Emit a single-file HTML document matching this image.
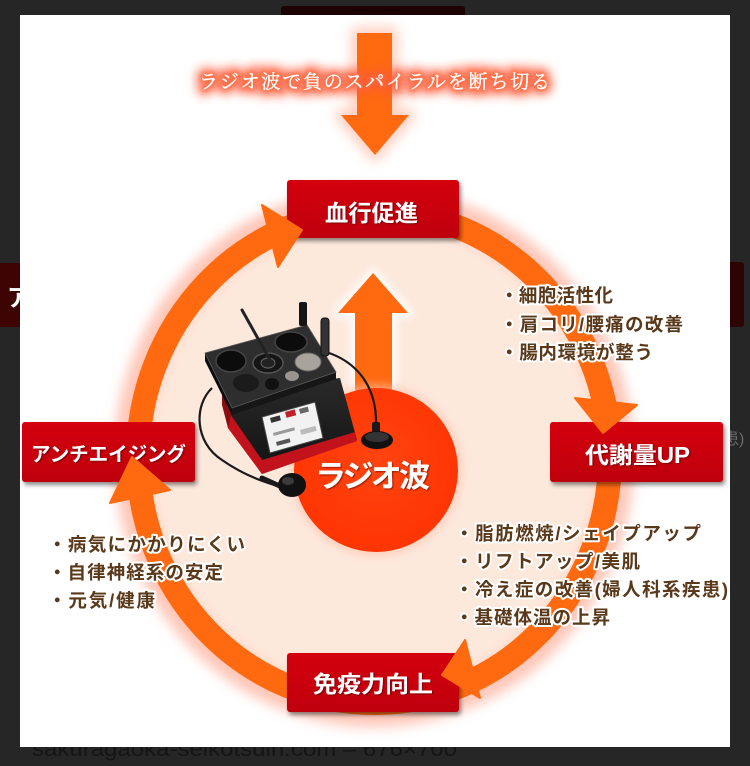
<!DOCTYPE html>
<html><head><meta charset="utf-8"><title>ラジオ波で負のスパイラルを断ち切る</title>
<style>
html,body{margin:0;padding:0;background:#262626;width:750px;height:766px;overflow:hidden}
svg{display:block}
.jp{font-family:"Liberation Sans","Noto Sans CJK JP",sans-serif;font-weight:700}
.serif{font-family:"Liberation Serif","Noto Serif CJK SC",serif}
.lst{font-family:"Liberation Sans","Noto Sans CJK JP",sans-serif;font-weight:700;font-size:18.5px;fill:#5a381a;stroke:#fff;stroke-width:4;stroke-linejoin:round;paint-order:stroke}
.bx{font-family:"Liberation Sans","Noto Sans CJK JP",sans-serif;font-weight:700;fill:#fff}
</style></head><body>
<svg width="750" height="766" viewBox="0 0 750 766" xmlns="http://www.w3.org/2000/svg">
<defs>
  <filter id="b6" x="-30%" y="-30%" width="160%" height="160%"><feGaussianBlur stdDeviation="6"/></filter>
  <filter id="b5" x="-30%" y="-60%" width="160%" height="220%"><feGaussianBlur stdDeviation="5"/></filter>
  <filter id="b4" x="-30%" y="-30%" width="160%" height="160%"><feGaussianBlur stdDeviation="4"/></filter>
  <filter id="b2" x="-30%" y="-30%" width="160%" height="160%"><feGaussianBlur stdDeviation="2"/></filter>
  <filter id="sh" x="-10%" y="-10%" width="130%" height="140%"><feDropShadow dx="2" dy="3" stdDeviation="2" flood-color="#000" flood-opacity="0.45"/></filter>
  <filter id="tsh" x="-10%" y="-20%" width="120%" height="150%"><feDropShadow dx="1" dy="1" stdDeviation="0.8" flood-color="#400" flood-opacity="0.6"/></filter>
  <linearGradient id="boxg" x1="0" y1="0" x2="0" y2="1"><stop offset="0" stop-color="#d4000e"/><stop offset="1" stop-color="#bf0008"/></linearGradient>
  <radialGradient id="circg" cx="0.5" cy="0.45" r="0.6"><stop offset="0" stop-color="#ff4410"/><stop offset="1" stop-color="#ff3300"/></radialGradient>
  <linearGradient id="bodyg" x1="0" y1="0" x2="0" y2="1"><stop offset="0" stop-color="#2a2a2a"/><stop offset="1" stop-color="#111"/></linearGradient>
</defs>

<!-- background page remnants -->
<rect x="0" y="0" width="750" height="766" fill="#262626"/>
<rect x="281" y="6" width="184" height="14" rx="3" fill="#1c0202"/>
<rect x="-6" y="263" width="30" height="64" rx="3" fill="#3e0404"/>
<text x="7" y="306" class="bx" font-size="24" fill="#e8e8e8">ア</text>
<rect x="726" y="262" width="18" height="65" rx="3" fill="#2e0303"/>
<text x="723" y="444" font-family="Liberation Sans,Noto Sans CJK JP,sans-serif" font-size="16" fill="#6a6a6a">患)</text>
<text x="32" y="756" font-family="Liberation Sans,sans-serif" font-size="21" fill="#151515" textLength="425" lengthAdjust="spacingAndGlyphs">sakuragaoka-seikotsuin.com – 676×700</text>

<!-- white panel -->
<rect x="20" y="15" width="710" height="732" fill="#ffffff"/>

<!-- ring -->
<ellipse cx="374" cy="457" rx="236" ry="246" fill="none" stroke="#ffb4a0" stroke-width="48" opacity="0.75" filter="url(#b6)"/>
<ellipse cx="374" cy="457" rx="236" ry="246" fill="#fde8dc"/>
<ellipse cx="374" cy="457" rx="228" ry="238" fill="none" stroke="#ffd8c8" stroke-width="14" opacity="0.8" filter="url(#b4)"/>
<ellipse cx="374" cy="457" rx="236" ry="246" fill="none" stroke="#ff6a10" stroke-width="24"/>

<!-- up arrow -->
<polygon points="355,400 355,313 338,313 373,273 408,313 392,313 392,400" fill="#fff" stroke="#fff" stroke-width="10" stroke-linejoin="round" opacity="0.8" filter="url(#b4)"/>
<polygon points="355,400 355,313 338,313 373,273 408,313 392,313 392,400" fill="#ff6a10"/>

<!-- center circle -->
<circle cx="376" cy="470" r="86" fill="#ffc0a8" opacity="0.6" filter="url(#b4)"/>
<circle cx="376" cy="470" r="82" fill="url(#circg)"/>

<!-- device -->
<g>
  <path d="M212,388 C194,405 194,442 222,460 C242,474 262,482 282,487" fill="none" stroke="#1a1a1a" stroke-width="2.2"/>
  <path d="M326,352 C352,360 378,382 376,428" fill="none" stroke="#1a1a1a" stroke-width="2.2"/>
  <polygon points="222,392 340,378 357,440 262,474 228,428" fill="url(#bodyg)"/>
  <polygon points="226,408 262,460 355,432 357,441 262,474 228,428" fill="#c2121c"/>
  <polygon points="222,392 232,410 228,428 222,405" fill="#8a0d14"/>
  <polygon points="262,417 315,402 323,438 270,453" fill="#f2f2f2" stroke="#444" stroke-width="1"/>
  <rect x="270" y="418" width="10" height="5" fill="#333" transform="rotate(-15 270 418)"/>
  <rect x="285" y="412" width="10" height="6" fill="#c0202a" transform="rotate(-15 285 412)"/>
  <rect x="299" y="409" width="9" height="5" fill="#666" transform="rotate(-15 299 409)"/>
  <rect x="273" y="433" width="22" height="3" fill="#999" transform="rotate(-15 273 433)"/>
  <rect x="276" y="442" width="14" height="4" fill="#555" transform="rotate(-15 276 442)"/>
  <rect x="300" y="430" width="16" height="5" fill="#bbb" transform="rotate(-15 300 430)"/>
  <polygon points="205,353 232,408 232,415 205,361" fill="#0e0e0e"/>
  <polygon points="232,408 336,372 336,379 232,415" fill="#161616"/>
  <polygon points="205,353 307,325 336,372 232,408" fill="#2e2e2e" stroke="#5a5a5a" stroke-width="0.8"/>
  <ellipse cx="231" cy="361" rx="15" ry="11" fill="#0c0c0c" stroke="#444" stroke-width="1.5"/>
  <ellipse cx="291" cy="342" rx="16" ry="10" fill="#0c0c0c" stroke="#444" stroke-width="1.5"/>
  <ellipse cx="268" cy="363" rx="15" ry="10" fill="#151515" stroke="#555" stroke-width="1.5"/>
  <ellipse cx="268" cy="363" rx="7" ry="5" fill="#222" stroke="#666" stroke-width="1"/>
  <ellipse cx="246" cy="383" rx="13" ry="9" fill="#1b1b1b"/>
  <ellipse cx="308" cy="362" rx="13" ry="9" fill="#a8a49c" stroke="#666" stroke-width="1"/>
  <ellipse cx="292" cy="376" rx="7" ry="5" fill="#9a968f"/>
  <ellipse cx="272" cy="384" rx="7" ry="6" fill="#111"/>
  <line x1="242" y1="310" x2="270" y2="360" stroke="#222" stroke-width="3" stroke-linecap="round"/>
  <rect x="299" y="302" width="8" height="24" rx="2" fill="#151515"/>
  <rect x="321" y="318" width="8" height="38" rx="3" fill="#333" stroke="#111" stroke-width="1"/>
  <rect x="372" y="422" width="8" height="14" rx="2" fill="#1a1a1a"/>
  <ellipse cx="377" cy="440" rx="16" ry="9" fill="#111"/>
  <ellipse cx="377" cy="437" rx="12" ry="5" fill="#333"/>
  <path d="M262,478 L282,487" stroke="#1a1a1a" stroke-width="5" stroke-linecap="round"/>
  <ellipse cx="292" cy="485" rx="14" ry="12" fill="#111"/>
  <ellipse cx="288" cy="481" rx="6" ry="4" fill="#3a3a3a"/>
</g>

<!-- ラジオ波 -->
<text x="315" y="487" class="bx" font-size="31" textLength="115" lengthAdjust="spacing" filter="url(#tsh)">ラジオ波</text>

<!-- top arrow -->
<polygon points="357,33 392,33 392,115 409,115 375,155 341,115 357,115" fill="#ffc4b0" stroke="#ffc4b0" stroke-width="12" stroke-linejoin="round" opacity="0.8" filter="url(#b6)"/>
<polygon points="357,33 392,33 392,115 409,115 375,155 341,115 357,115" fill="#ff6a10"/>

<!-- title -->
<text x="199" y="88" class="serif" font-size="19" textLength="351" lengthAdjust="spacing" fill="#ff4a28" stroke="#ff5a38" stroke-width="12" opacity="0.8" filter="url(#b5)">ラジオ波で負のスパイラルを断ち切る</text>
<text x="199" y="88" class="serif" font-size="19" textLength="351" lengthAdjust="spacing" fill="#ff6a40" stroke="#ff6a40" stroke-width="4" opacity="0.8" filter="url(#b2)">ラジオ波で負のスパイラルを断ち切る</text>
<text x="199" y="88" class="serif" font-size="19" textLength="351" lengthAdjust="spacing" fill="#ffffff" stroke="#fff" stroke-width="0.4">ラジオ波で負のスパイラルを断ち切る</text>

<!-- boxes -->
<g filter="url(#sh)">
  <rect x="287" y="180" width="172" height="58" rx="3" fill="url(#boxg)"/>
  <rect x="550" y="422" width="173" height="60" rx="3" fill="url(#boxg)"/>
  <rect x="22" y="422" width="173" height="60" rx="3" fill="url(#boxg)"/>
  <rect x="287" y="653" width="172" height="59" rx="3" fill="url(#boxg)"/>
</g>
<text x="325" y="221" class="bx" font-size="23" textLength="93" lengthAdjust="spacingAndGlyphs" filter="url(#tsh)">血行促進</text>
<text x="585" y="463" class="bx" font-size="23" textLength="105" lengthAdjust="spacingAndGlyphs" filter="url(#tsh)">代謝量UP</text>
<text x="31" y="461" class="bx" font-size="20" textLength="155" lengthAdjust="spacingAndGlyphs" filter="url(#tsh)">アンチエイジング</text>
<text x="313" y="692" class="bx" font-size="23" textLength="120" lengthAdjust="spacingAndGlyphs" filter="url(#tsh)">免疫力向上</text>

<!-- ring arrowheads -->
<g fill="#ff6a10" stroke="#ff6a10" stroke-width="2" stroke-linejoin="round">
  <polygon points="262,205 302,230 278,267"/>
  <polygon points="575,398 637,405 603,433"/>
  <polygon points="465,640 442,675 480,698"/>
  <polygon points="132,457 110,503 170,490"/>
</g>

<!-- lists -->
<text class="lst" x="500" y="302" textLength="113" lengthAdjust="spacing">・細胞活性化</text>
<text class="lst" x="500" y="331" textLength="183" lengthAdjust="spacing">・肩コリ/腰痛の改善</text>
<text class="lst" x="500" y="359" textLength="153" lengthAdjust="spacing">・腸内環境が整う</text>

<text class="lst" x="48" y="551" textLength="197" lengthAdjust="spacing">・病気にかかりにくい</text>
<text class="lst" x="48" y="579" textLength="175" lengthAdjust="spacing">・自律神経系の安定</text>
<text class="lst" x="48" y="607" textLength="107" lengthAdjust="spacing">・元気/健康</text>

<text class="lst" x="455" y="540" textLength="246" lengthAdjust="spacing">・脂肪燃焼/シェイプアップ</text>
<text class="lst" x="455" y="568" textLength="185" lengthAdjust="spacing">・リフトアップ/美肌</text>
<text class="lst" x="455" y="596" textLength="273" lengthAdjust="spacing">・冷え症の改善(婦人科系疾患)</text>
<text class="lst" x="455" y="624" textLength="155" lengthAdjust="spacing">・基礎体温の上昇</text>
</svg>
</body></html>
